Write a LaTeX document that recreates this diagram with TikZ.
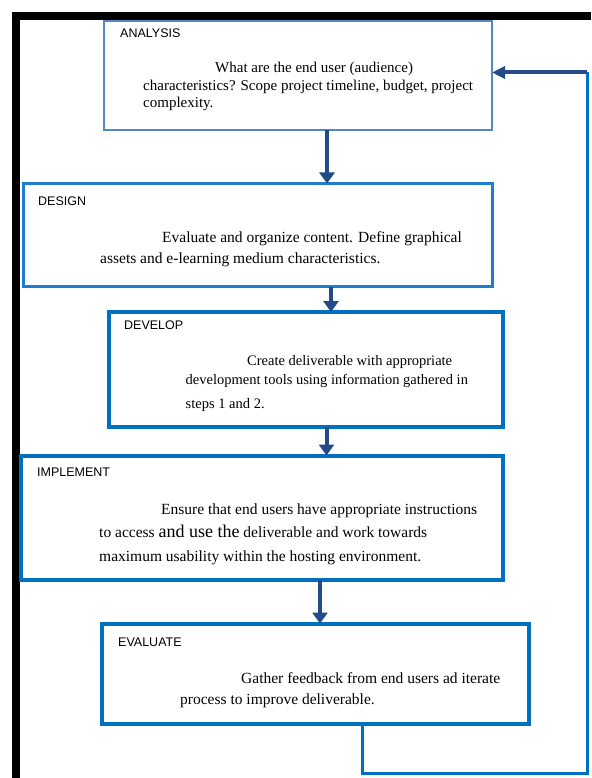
\documentclass[tikz,border=0pt]{standalone}
\usepackage{fontspec}
\setmainfont{Liberation Serif}
\newfontfamily\labelfont{Liberation Sans}
\usetikzlibrary{arrows.meta, positioning}

% Colours
\definecolor{stageblue}{RGB}{0,112,192}
\definecolor{paleblue}{RGB}{84,135,199}
\definecolor{midblue}{RGB}{30,125,205}
\definecolor{arrownavy}{RGB}{35,75,135}

\begin{document}
\begin{tikzpicture}[x=1pt, y=-1pt,
    stagebox/.style={draw=stageblue, line width=4pt, anchor=north west, inner sep=0pt, outer sep=0pt},
    stagename/.style={font=\labelfont\fontsize{12.5}{15}\selectfont, anchor=base west, inner sep=0pt},
    stagetext/.style={anchor=north west, align=left, inner sep=0pt},
    flow/.style={-{Triangle[length=11pt, width=15pt]}, line width=4pt, draw=arrownavy},
    loopline/.style={line width=3pt, draw=stageblue}
]
\useasboundingbox (0,0) rectangle (591,778);

% Frame
\draw[line width=7.5pt] (16,778) -- (16,16) -- (591,16);

% ============ ANALYSIS ============
\node[stagebox, draw=paleblue, line width=2pt, minimum width=388pt, minimum height=109pt] (analysis) at (104,21.5) {};
\node[stagename] (analysisname) at (120,37.5) {ANALYSIS};
\node[stagetext, font=\fontsize{15}{17.5}\selectfont] (analysistext) at (143,62) {%
    \hspace*{72pt}What are the end user (audience)\\
    characteristics? Scope project timeline, budget, project\\
    complexity.};

% ============ DESIGN ============
\node[stagebox, draw=midblue, line width=3pt, minimum width=469pt, minimum height=103pt] (design) at (23,183.5) {};
\node[stagename] (designname) at (38,205.5) {DESIGN};
\node[stagetext, font=\fontsize{15.5}{21}\selectfont] (designtext) at (100,231.5) {%
    \hspace*{62pt}Evaluate and organize content. Define graphical\\
    assets and e-learning medium characteristics.};

% ============ DEVELOP ============
\node[stagebox, minimum width=393.5pt, minimum height=115pt] (develop) at (109,312) {};
\node[stagename] (developname) at (124,329.5) {DEVELOP};
\node[stagetext, font=\fontsize{14.5}{19}\selectfont] (developtext) at (185.5,355) {%
    \hspace*{61.5pt}Create deliverable with appropriate\\
    development tools using information gathered in\\[5pt]
    steps 1 and 2.};

% ============ IMPLEMENT ============
\node[stagebox, minimum width=482pt, minimum height=124.5pt] (implement) at (21,455.5) {};
\node[stagename] (implementname) at (37,476.5) {IMPLEMENT};
\node[stagetext, font=\fontsize{15.5}{23.5}\selectfont] (implementtext) at (99,503.5) {%
    \hspace*{62pt}Ensure that end users have appropriate instructions\\
    to access {\fontsize{18}{23.5}\selectfont and use the} deliverable and work towards\\
    maximum usability within the hosting environment.};

% ============ EVALUATE ============
\node[stagebox, minimum width=427pt, minimum height=100pt] (evaluate) at (102,623.5) {};
\node[stagename] (evaluatename) at (118,646.5) {EVALUATE};
\node[stagetext, font=\fontsize{15.5}{21}\selectfont] (evaluatetext) at (180,672.5) {%
    \hspace*{61pt}Gather feedback from end users ad iterate\\
    process to improve deliverable.};

% Flow between stages
\draw[flow] (analysis.south -| 327,0) -- (design.north -| 327,0);
\draw[flow] (design.south -| 331,0) -- (develop.north -| 331,0);
\draw[flow] (develop.south -| 326.5,0) -- (implement.north -| 326.5,0);
\draw[flow] (implement.south -| 320,0) -- (evaluate.north -| 320,0);

% Feedback loop back to analysis
\coordinate (loopbottom) at (587,773);
\coordinate (loopturn) at (587,72.5);
\draw[loopline] (evaluate.south -| 362,0) |- (loopbottom) -- (loopturn);
\draw[flow, -{Triangle[length=13pt, width=12pt]}] (loopturn) -- (analysis.east |- loopturn);

\end{tikzpicture}
\end{document}
